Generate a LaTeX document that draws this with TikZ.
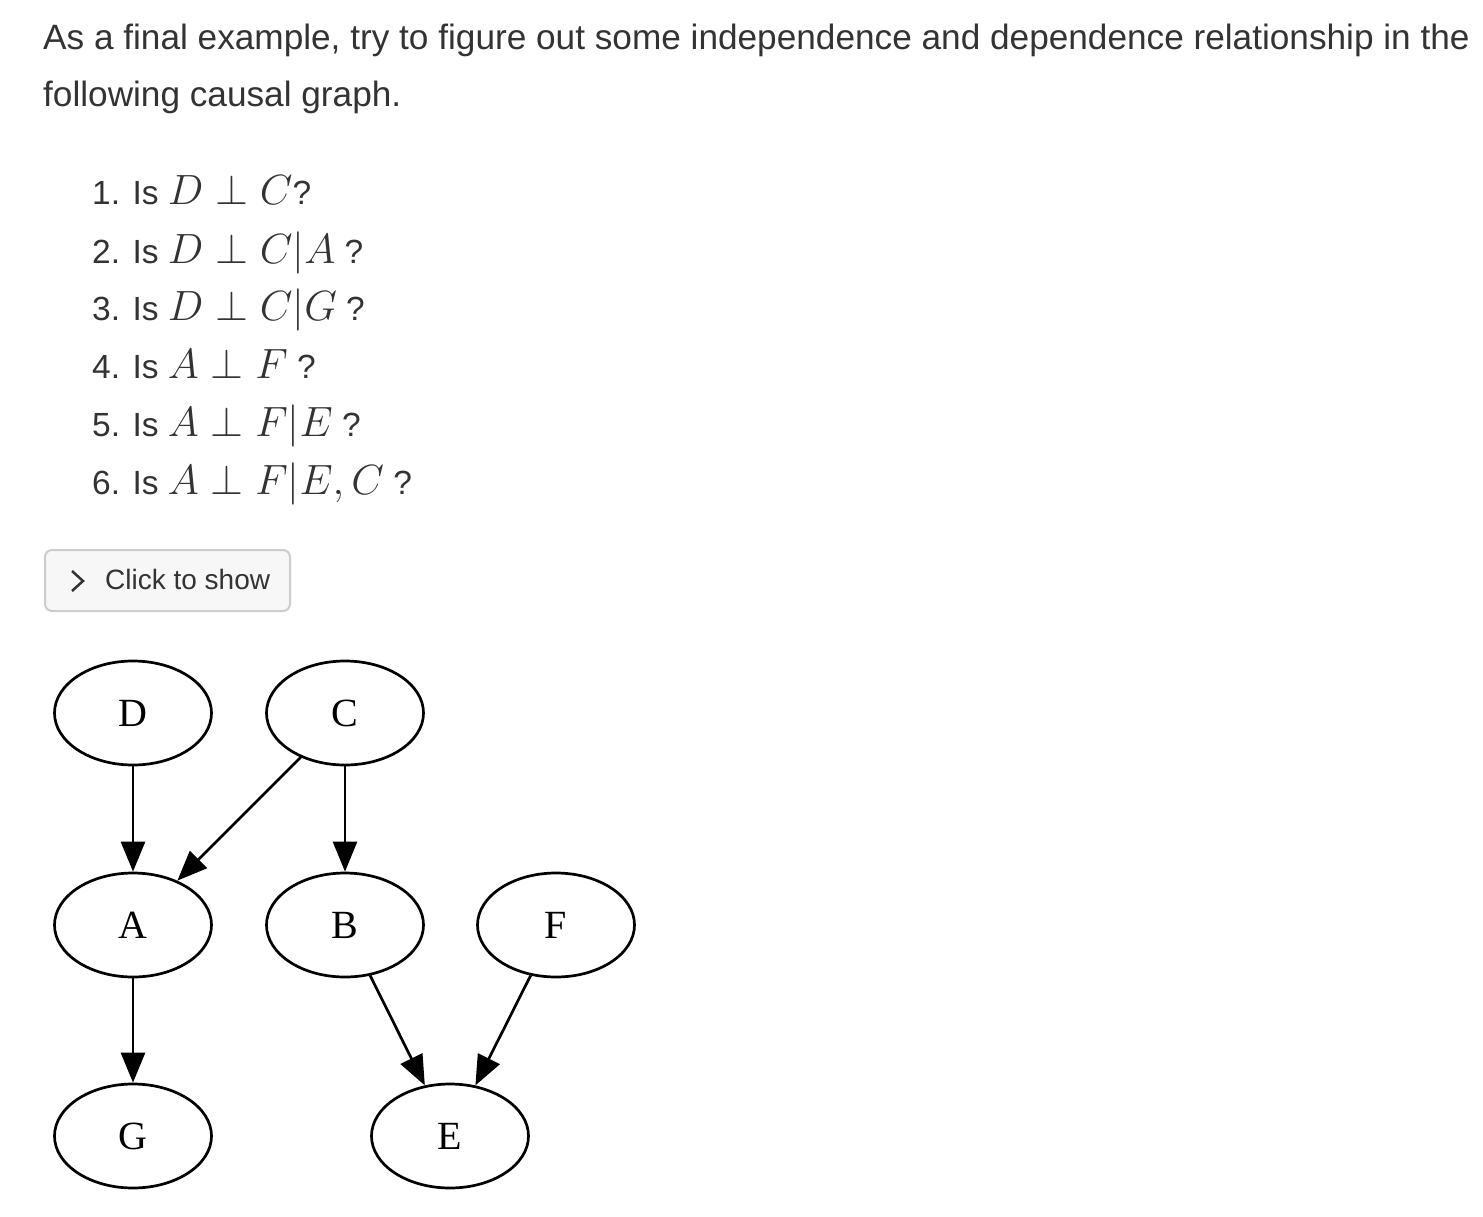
\documentclass[tikz,border=0pt]{standalone}
\usepackage{graphicx}
\usepackage{fontspec}
\setmainfont{Liberation Sans}
\newfontfamily\dotfont{Liberation Serif}
\usetikzlibrary{shapes.geometric,arrows.meta}
\definecolor{ink}{HTML}{333333}
\definecolor{btnfill}{HTML}{F7F7F7}
\definecolor{btnline}{HTML}{CCCCCC}
\newcommand{\mth}[1]{\scalebox{1.7}{\fontsize{25}{30}\selectfont$#1$}}

\begin{document}
\begin{tikzpicture}[x=1pt,y=-1pt,
        txt/.style={anchor=base west,inner sep=0pt,text=ink,font=\fontsize{35.2}{40}\selectfont},
        item/.style={txt,font=\fontsize{33.5}{40}\selectfont},
        btn/.style={draw=btnline,fill=btnfill,line width=2pt,rounded corners=7pt,minimum width=245pt,minimum height=61pt,inner sep=0pt},
        var/.style={ellipse,draw,line width=2.7pt,minimum width=157pt,minimum height=104pt,inner sep=0pt,font=\dotfont\fontsize{40}{48}\selectfont},
        link/.style={-{Triangle[length=30pt,width=24pt]},line width=2.7pt}]
        \useasboundingbox (0,0) rectangle (1483,1217);

        % question text
        \node[txt] (intro1) at (43,50) {As a final example, try to figure out some independence and dependence relationship in the};
        \node[txt] (intro2) at (43,107) {following causal graph.};
        \node[item] (q1) at (92,205) {1. Is \mth{D\perp C}?};
        \node[item] (q2) at (92,263) {2. Is \mth{D\perp C|A} ?};
        \node[item] (q3) at (92,320) {3. Is \mth{D\perp C|G} ?};
        \node[item] (q4) at (92,378) {4. Is \mth{A\perp F} ?};
        \node[item] (q5) at (92,436) {5. Is \mth{A\perp F|E} ?};
        \node[item] (q6) at (92,494) {6. Is \mth{A\perp F|E,C} ?};

        % button
        \node[btn] (btn) at (167.5,580.5) {};
        \draw[ink,line width=2.5pt] (72,571) -- (83,581) -- (72,591);
        \node[txt,font=\fontsize{28}{34}\selectfont] (btntext) at (105,589) {Click to show};

        % causal graph
        \node[var] (D) at (133,713) {D};
        \node[var] (C) at (345,713) {C};
        \node[var] (A) at (133,925) {A};
        \node[var] (B) at (345,925) {B};
        \node[var] (F) at (556,925) {F};
        \node[var] (G) at (133,1136) {G};
        \node[var] (E) at (450,1136) {E};
        \draw[link] (D) -- (A);
        \draw[link] (C) -- (A);
        \draw[link] (C) -- (B);
        \draw[link] (A) -- (G);
        \draw[link] (B) -- (E);
        \draw[link] (F) -- (E);
\end{tikzpicture}
\end{document}
